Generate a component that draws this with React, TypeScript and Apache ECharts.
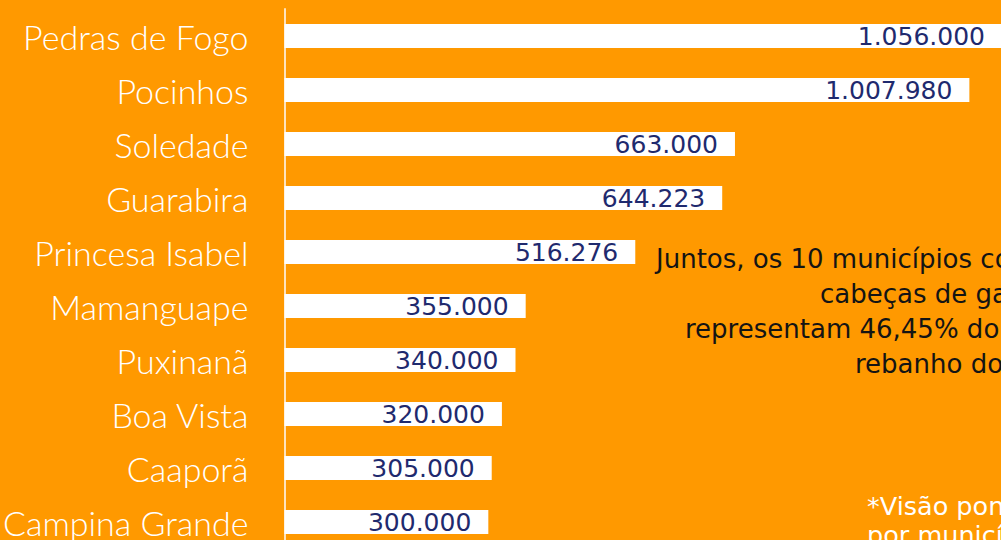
import React, { useEffect, useRef } from "react";
import * as echarts from "echarts";

const categories = [
  "Pedras de Fogo",
  "Pocinhos",
  "Soledade",
  "Guarabira",
  "Princesa Isabel",
  "Mamanguape",
  "Puxinanã",
  "Boa Vista",
  "Caaporã",
  "Campina Grande",
];
const values = [1056000, 1007980, 663000, 644223, 516276, 355000, 340000, 320000, 305000, 300000];
const noteLines = ["Juntos, os 10 municípios co", "cabeças de ga", "representam 46,45% do", "rebanho do"];
const footLines = ["*Visão pon", "por municí"];

const fmt = (v: number) => String(Math.round(v)).replace(/\B(?=(\d{3})+(?!\d))/g, ".");

export default function App() {
  const ref = useRef<HTMLDivElement>(null);
  useEffect(() => {
    if (!ref.current) return;
    const chart = echarts.init(ref.current, undefined, { renderer: "svg" });
    const noteX = [656, 820, 685, 855];
    const noteY = [259, 294, 329, 364];
    chart.setOption({
      animation: false,
      backgroundColor: "#FF9900",
      grid: { left: 284, top: 9, width: 718, height: 540, containLabel: false },
      xAxis: { type: "value", min: 0, max: 1056000, show: false, splitLine: { show: false } },
      yAxis: {
        type: "category",
        data: categories,
        inverse: true,
        offset: 2,
        axisTick: { show: false },
        axisLine: { show: true, lineStyle: { color: "#FFE3BC", width: 2 } },
        axisLabel: {
          margin: 34,
          color: "#FFFFFF",
          fontFamily: "Lato",
          fontWeight: 300,
          fontSize: 34,
          padding: [3, 0, 0, 0],
        },
      },
      series: [
        {
          type: "bar",
          data: values,
          barWidth: 24,
          clip: false,
          itemStyle: { color: "#FFFFFF" },
          label: {
            show: true,
            position: "insideRight",
            distance: 17,
            color: "#1F2A6E",
            fontFamily: "DejaVu Sans",
            fontSize: 25,
            formatter: (p: any) => fmt(p.value),
          },
        },
      ],
      graphic: [
        ...noteLines.map((t, i) => ({
          type: "text",
          x: noteX[i],
          y: noteY[i],
          style: {
            text: t,
            fill: "#141414",
            font: "26px 'DejaVu Sans'",
            textAlign: "left",
            textVerticalAlign: "middle",
          },
        })),
        ...footLines.map((t, i) => ({
          type: "text",
          x: 867,
          y: [506, 535][i],
          style: {
            text: t,
            fill: "#FFFFFF",
            font: "25.5px 'DejaVu Sans'",
            textAlign: "left",
            textVerticalAlign: "middle",
          },
        })),
      ],
    });
    return () => chart.dispose();
  }, []);
  return (
    <div style={{ position: "fixed", left: 0, top: 0, width: 1001, height: 540, overflow: "hidden" }}>
      <div ref={ref} style={{ width: 1010, height: 560 }} />
    </div>
  );
}
